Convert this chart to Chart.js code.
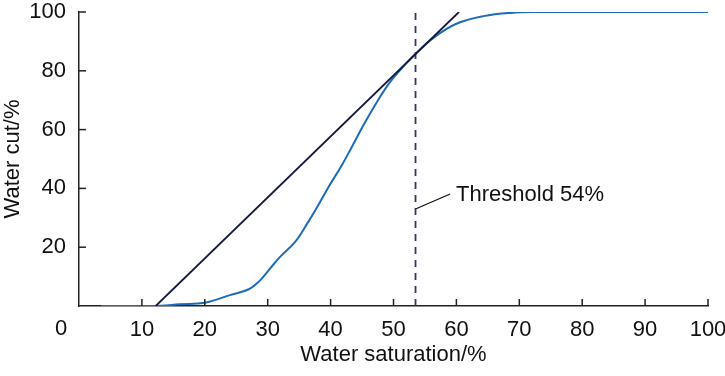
<!DOCTYPE html>
<html>
<head>
<meta charset="utf-8">
<script src="https://cdn.jsdelivr.net/npm/chart.js@4.4.1/dist/chart.umd.min.js"></script>
<style>
html,body{margin:0;padding:0;background:#fff;}
#wrap{width:725px;height:376px;}
</style>
</head>
<body>
<div id="wrap"><canvas id="c" width="725" height="376"></canvas></div>
<script>
// Data
const waterSaturation = [3.5, 10, 13, 16, 20, 24, 27, 28.6, 30.4, 32, 34.4, 36.3, 37.9, 39.7, 41.6, 43.1, 45.3, 47.4, 49.5, 51.6, 53.5, 56.4, 60, 64.3, 68.6, 73.4, 80, 90, 100];
const waterCut        = [0,   0,  0.1, 0.6, 1.1, 3.7, 5.7, 8.3, 12.8, 16.8, 21.9, 28.1, 33.8, 40.6, 47.2, 53.0, 61.8, 69.5, 76.3, 81.5, 85.8, 91.3, 96, 98.6, 99.7, 100, 100, 100, 100];
const tangentX = [12.2, 60.4];
const tangentY = [0, 100];
const thresholdX = [53.5, 53.5];
const thresholdY = [0, 100];
const leaderX = [53.5, 59.0];
const leaderY = [33, 38.1];
const thresholdLabel = "Threshold 54%";
const xTicks = [0, 10, 20, 30, 40, 50, 60, 70, 80, 90, 100];
const yTicks = [0, 20, 40, 60, 80, 100];
const xTitle = "Water saturation/%";
const yTitle = "Water cut/%";

const pts = (xs, ys) => xs.map((x, i) => ({x, y: ys[i]}));
const FONT = "'Liberation Sans', Arial, sans-serif";

const decorPlugin = {
  id: 'decor',
  afterDatasetsDraw(chart) {
    const ctx = chart.ctx;
    const xs = chart.scales.x, ys = chart.scales.y;
    ctx.save();
    // inward tick marks
    ctx.strokeStyle = '#222';
    ctx.lineWidth = 1.5;
    const tl = 7;
    xTicks.forEach(v => {
      if (v === 0) return;
      const px = xs.getPixelForValue(v);
      ctx.beginPath(); ctx.moveTo(px, ys.bottom); ctx.lineTo(px, ys.bottom - tl); ctx.stroke();
    });
    yTicks.forEach(v => {
      if (v === 0) return;
      const py = ys.getPixelForValue(v);
      ctx.beginPath(); ctx.moveTo(xs.left, py); ctx.lineTo(xs.left + tl, py); ctx.stroke();
    });
    // shared origin label
    ctx.fillStyle = '#111';
    ctx.font = "22px " + FONT;
    ctx.textAlign = 'center';
    ctx.textBaseline = 'middle';
    ctx.fillText('0', xs.left - 18, ys.bottom + 23);
    // threshold annotation text
    ctx.font = "22px " + FONT;
    ctx.textAlign = 'left';
    ctx.textBaseline = 'middle';
    ctx.fillText(thresholdLabel, xs.getPixelForValue(leaderX[1]) + 6, ys.getPixelForValue(leaderY[1]) + 1);
    ctx.restore();
  }
};

new Chart(document.getElementById('c'), {
  type: 'scatter',
  data: {
    datasets: [
      {
        data: pts(tangentX, tangentY), showLine: true, borderColor: '#15173f', borderWidth: 1.8,
        pointRadius: 0, fill: false
      },
      {
        data: pts(waterSaturation, waterCut), showLine: true, borderColor: '#1c6cb8', borderWidth: 2,
        pointRadius: 0, fill: false, tension: 0.4
      },
      {
        data: pts(thresholdX, thresholdY), showLine: true, borderColor: '#2b3a6a', borderWidth: 1.8,
        borderDash: [7, 6], pointRadius: 0, fill: false
      },
      {
        data: pts(leaderX, leaderY), showLine: true, borderColor: '#111', borderWidth: 1.3,
        pointRadius: 0, fill: false
      }
    ]
  },
  options: {
    responsive: false,
    animation: false,
    events: [],
    layout: { padding: { top: 12, right: 17, left: 0, bottom: 0 } },
    plugins: { legend: { display: false }, tooltip: { enabled: false } },
    scales: {
      x: {
        type: 'linear', min: 0, max: 100,
        afterFit(s) { s.height = 70; s.paddingRight = 0; s.paddingLeft = 0; },
        afterBuildTicks(s) { s.ticks = xTicks.map(v => ({value: v})); },
        grid: { display: false, drawTicks: false },
        border: { display: true, color: '#222', width: 1.5 },
        ticks: {
          padding: 11, color: '#111', maxRotation: 0, autoSkip: false,
          font: { family: FONT, size: 22 },
          callback: v => v === 0 ? '' : String(v)
        },
        title: { display: true, text: xTitle, color: '#111', font: { family: FONT, size: 22 }, padding: { top: 0, bottom: 8 } }
      },
      y: {
        type: 'linear', min: 0, max: 100,
        afterFit(s) { s.width = 79; s.paddingTop = 0; s.paddingBottom = 0; },
        afterBuildTicks(s) { s.ticks = yTicks.map(v => ({value: v})); },
        grid: { display: false, drawTicks: false },
        border: { display: true, color: '#222', width: 1.5 },
        ticks: {
          padding: 13, color: '#111', autoSkip: false,
          font: { family: FONT, size: 22 },
          callback: v => v === 0 ? '' : String(v)
        },
        title: { display: true, text: yTitle, color: '#111', font: { family: FONT, size: 22 }, padding: { top: 0, bottom: 0 } }
      }
    }
  },
  plugins: [decorPlugin]
});
</script>
</body>
</html>
